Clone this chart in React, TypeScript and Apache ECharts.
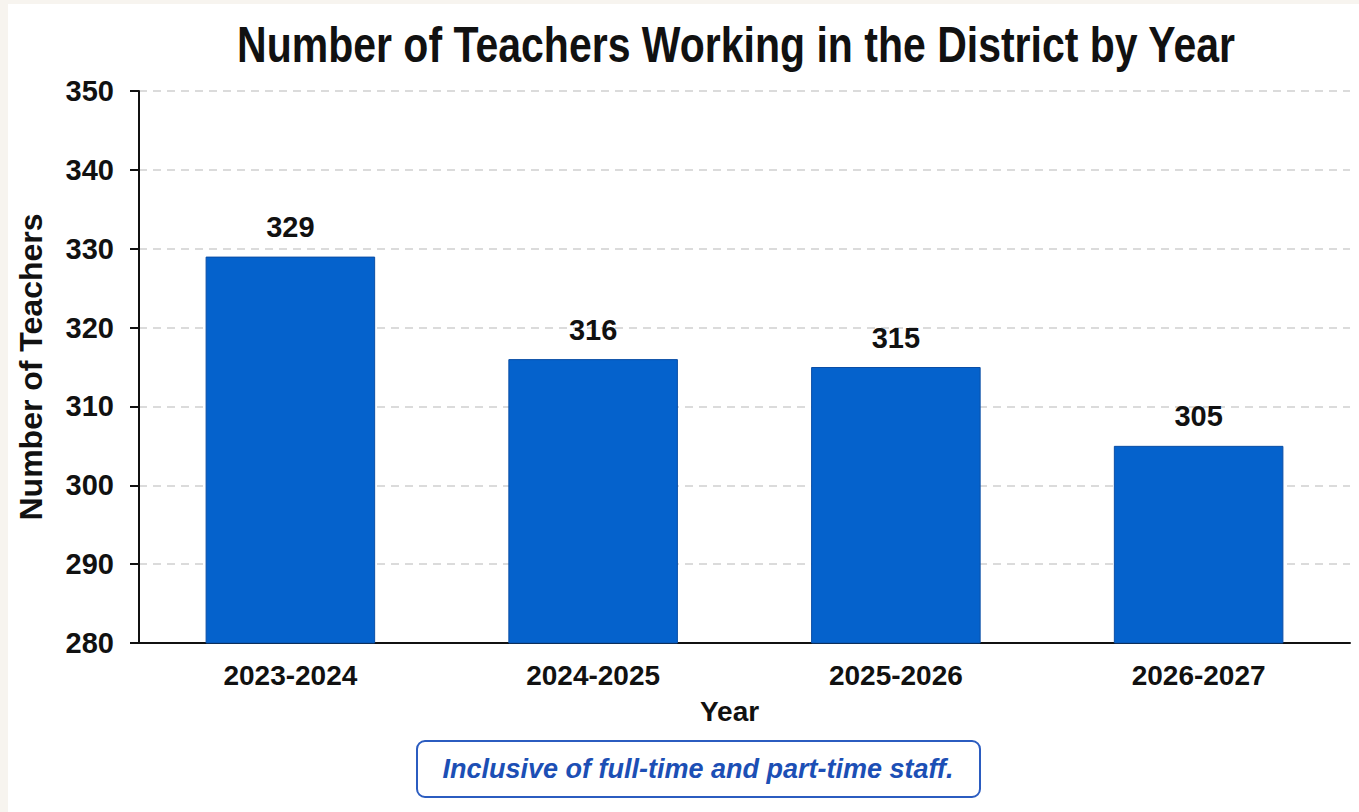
import React, { useEffect, useRef } from "react";
import * as echarts from "echarts";

const categories = ["2023-2024", "2024-2025", "2025-2026", "2026-2027"];
const teachers = [329, 316, 315, 305];
const yMin = 280;
const yMax = 350;
const yStep = 10;
const titleText = "Number of Teachers Working in the District by Year";
const xName = "Year";
const yName = "Number of Teachers";
const noteText = "Inclusive of full-time and part-time staff.";

const SANS = "'Liberation Sans', Arial, Helvetica, sans-serif";

export default function App() {
  const ref = useRef<HTMLDivElement>(null);
  useEffect(() => {
    if (!ref.current) return;
    const chart = echarts.init(ref.current, null, { renderer: "svg" });
    chart.setOption({
      animation: false,
      backgroundColor: "transparent",
      grid: { left: 139, right: 9, top: 91, bottom: 169, containLabel: false },
      xAxis: {
        type: "category",
        data: categories,
        name: xName,
        nameLocation: "middle",
        nameGap: 54,
        nameTextStyle: { fontFamily: SANS, fontWeight: "bold", fontSize: 28, color: "#111111", padding: [0, 30, 0, 0] },
        axisLine: { show: true, lineStyle: { color: "#111111", width: 2 } },
        axisTick: { show: false },
        axisLabel: { fontFamily: SANS, fontWeight: "bold", fontSize: 28, color: "#111111", margin: 18 },
      },
      yAxis: {
        type: "value",
        min: yMin,
        max: yMax,
        interval: yStep,
        name: yName,
        nameLocation: "middle",
        nameGap: 92,
        nameTextStyle: { fontFamily: SANS, fontWeight: "bold", fontSize: 32, color: "#111111" },
        axisLine: { show: true, lineStyle: { color: "#111111", width: 2 } },
        axisTick: { show: true, length: 9, lineStyle: { color: "#111111", width: 2 } },
        axisLabel: { fontFamily: SANS, fontWeight: "bold", fontSize: 29, color: "#111111", margin: 25 },
        splitLine: { show: true, lineStyle: { color: "#cfcfcf", type: [8, 6], width: 1.5 } },
      },
      series: [
        {
          type: "bar",
          data: teachers,
          barWidth: "56%",
          itemStyle: { color: "#0562cc", borderColor: "#0a4ea6", borderWidth: 1 },
          label: {
            show: true,
            position: "top",
            distance: 15,
            fontFamily: SANS,
            fontWeight: "bold",
            fontSize: 29,
            color: "#111111",
          },
        },
      ],
      graphic: [
        {
          type: "text",
          x: 736,
          y: 45,
          scaleX: 0.82,
          style: {
            text: titleText,
            fontFamily: SANS,
            fontWeight: "bold",
            fontSize: 50,
            fill: "#111111",
            align: "center",
            verticalAlign: "middle",
          },
        },
        {
          type: "rect",
          shape: { x: 417, y: 741, width: 563, height: 56, r: 8 },
          style: { fill: "#ffffff", stroke: "#2b5cc0", lineWidth: 2 },
        },
        {
          type: "text",
          x: 698,
          y: 769,
          style: {
            text: noteText,
            fontFamily: SANS,
            fontWeight: "bold",
            fontStyle: "italic",
            fontSize: 27,
            fill: "#1c4fb5",
            align: "center",
            verticalAlign: "middle",
          },
        },
      ],
    });
    return () => chart.dispose();
  }, []);
  return (
    <div style={{ position: "absolute", left: 0, top: 0, width: 1359, height: 812, background: "#f7f4ef", overflow: "hidden" }}>
      <div style={{ position: "absolute", left: 8, top: 4, width: 1351, height: 808, background: "#ffffff" }} />
      <div ref={ref} style={{ position: "absolute", left: 0, top: 0, width: 1359, height: 812 }} />
    </div>
  );
}
